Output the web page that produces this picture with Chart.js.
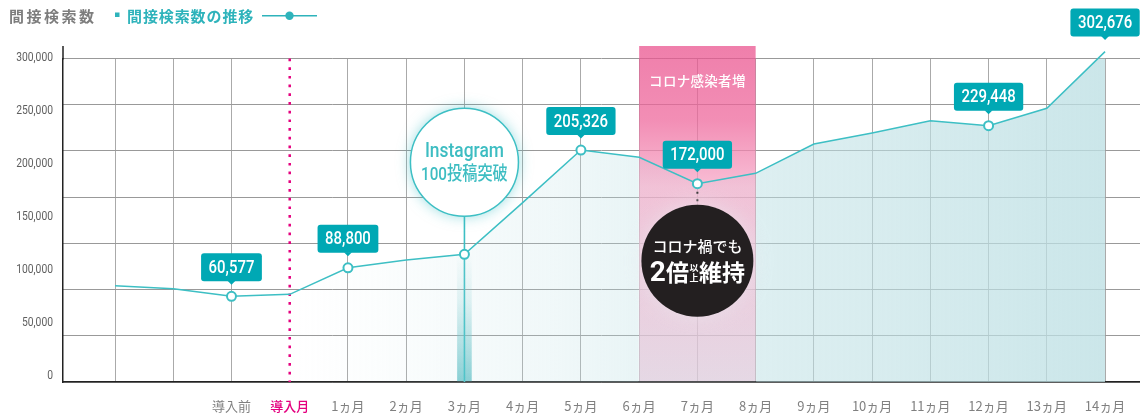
<!DOCTYPE html>
<html lang="ja">
<head>
<meta charset="utf-8">
<title>間接検索数の推移</title>
<script src="https://cdn.jsdelivr.net/npm/chart.js@4.4.1/dist/chart.umd.min.js"></script>
<style>
  html, body { margin: 0; padding: 0; background: #fff; }
  #wrap { position: relative; width: 1140px; height: 418px; }
</style>
</head>
<body>
<div id="wrap"><canvas id="c" width="1140" height="418"></canvas></div>
<script>
// Monthly indirect search counts (two unlabeled months precede "導入前")
const monthLabels = ['', '', '導入前', '導入月', '1ヵ月', '2ヵ月', '3ヵ月', '4ヵ月', '5ヵ月', '6ヵ月',
  '7ヵ月', '8ヵ月', '9ヵ月', '10ヵ月', '11ヵ月', '12ヵ月', '13ヵ月', '14ヵ月'];
const searchCounts = [71100, 68150, 60577, 62600, 88800, 96500, 102200, 153300, 205326, 198100,
  172000, 182300, 211300, 222200, 234300, 229448, 246600, 302676];
const markedPoints = [2, 4, 6, 8, 10, 15, 17];
const calloutPoints = [2, 4, 8, 10, 15, 17];
const yTickValues = [0, 50000, 100000, 150000, 200000, 250000, 300000];
const gridSteps = [0, 1, 2, 3, 4, 5, 6, 7];
const launchIndex = 3;
const instagramIndex = 6;
const coronaRange = [9, 11];
const coronaIndex = 10;

const TEAL = '#3dbfc4';
const TEAL_DARK = '#00a8b4';
const PINK = '#e4007f';
const CJK = '"Noto Sans CJK JP"';

function condensed(ctx, text, x, y, sx, align) {
  ctx.save();
  ctx.translate(x, y);
  ctx.scale(sx, 1);
  ctx.textAlign = align || 'center';
  ctx.fillText(text, 0, 0);
  ctx.restore();
}

function fillGradient(context) {
  const chart = context.chart;
  const area = chart.chartArea;
  if (!area) return 'rgba(0,0,0,0)';
  const xs = chart.scales.x;
  const x0 = xs.getPixelForValue(launchIndex);
  const x1 = xs.getPixelForValue(monthLabels.length - 1);
  const p0 = xs.getPixelForValue(coronaRange[0]);
  const p1 = xs.getPixelForValue(coronaRange[1]);
  const f = px => Math.min(1, Math.max(0, (px - x0) / (x1 - x0)));
  const g = chart.ctx.createLinearGradient(x0, 0, x1, 0);
  g.addColorStop(0, 'rgba(190,224,228,0)');
  g.addColorStop(f(x0 + 90), 'rgba(190,224,228,0.06)');
  g.addColorStop(f(p0 - 60), 'rgba(190,224,228,0.26)');
  g.addColorStop(f(p0 - 1), 'rgba(190,224,228,0.34)');
  g.addColorStop(f(p0), 'rgba(190,224,228,0.12)');
  g.addColorStop(f(p1), 'rgba(190,224,228,0.12)');
  g.addColorStop(f(p1 + 1), 'rgba(190,224,228,0.52)');
  g.addColorStop(f(p1 + 120), 'rgba(190,224,228,0.6)');
  g.addColorStop(1, 'rgba(190,224,228,0.8)');
  return g;
}

const decorations = {
  id: 'decorations',
  beforeDatasetsDraw(chart) {
    const ctx = chart.ctx;
    const area = chart.chartArea;
    const xs = chart.scales.x;
    const ys = chart.scales.y;

    // Corona band
    const bx0 = xs.getPixelForValue(coronaRange[0]);
    const bx1 = xs.getPixelForValue(coronaRange[1]);
    const bTop = 46;
    const bBot = area.bottom - 0.8;
    const pg = ctx.createLinearGradient(0, bTop, 0, bBot);
    pg.addColorStop(0, 'rgba(234,84,143,0.75)');
    pg.addColorStop(0.22, 'rgba(238,104,156,0.75)');
    pg.addColorStop(0.42, 'rgba(246,168,199,0.75)');
    pg.addColorStop(1, 'rgba(228,202,220,0.75)');
    ctx.save();
    ctx.fillStyle = pg;
    ctx.fillRect(bx0, bTop, bx1 - bx0, bBot - bTop);
    ctx.restore();

    // Launch month marker
    const lx = xs.getPixelForValue(launchIndex);
    ctx.save();
    ctx.strokeStyle = PINK;
    ctx.lineWidth = 2.5;
    ctx.setLineDash([2.7, 6]);
    ctx.beginPath();
    ctx.moveTo(lx, area.top);
    ctx.lineTo(lx, area.bottom);
    ctx.stroke();
    ctx.restore();

    // Instagram milestone stem and bar
    const ix = xs.getPixelForValue(instagramIndex);
    const iy = ys.getPixelForValue(searchCounts[instagramIndex]);
    const bg = ctx.createLinearGradient(0, iy, 0, area.bottom);
    bg.addColorStop(0, 'rgba(120,200,205,0)');
    bg.addColorStop(0.35, 'rgba(120,200,205,0.2)');
    bg.addColorStop(1, 'rgba(95,192,198,0.8)');
    ctx.save();
    ctx.fillStyle = bg;
    ctx.fillRect(ix - 7.3, iy, 14.6, area.bottom - iy - 0.8);
    ctx.strokeStyle = TEAL;
    ctx.lineWidth = 1.6;
    ctx.beginPath();
    ctx.moveTo(ix, iy - 40);
    ctx.lineTo(ix, area.bottom);
    ctx.stroke();
    ctx.restore();

    // y axis line continues slightly above the plot
    ctx.save();
    ctx.strokeStyle = '#222';
    ctx.lineWidth = 1.5;
    ctx.beginPath();
    ctx.moveTo(area.left, 46);
    ctx.lineTo(area.left, area.top + 1);
    ctx.stroke();
    ctx.restore();
  },
  afterDatasetsDraw(chart) {
    const ctx = chart.ctx;
    const xs = chart.scales.x;
    const yl = chart.scales.yl;
    const meta = chart.getDatasetMeta(0);

    // Corona band caption
    const bx0 = xs.getPixelForValue(coronaRange[0]);
    const bx1 = xs.getPixelForValue(coronaRange[1]);
    ctx.save();
    ctx.fillStyle = '#fff';
    ctx.font = '500 13.5px ' + CJK;
    ctx.textBaseline = 'middle';
    ctx.letterSpacing = '0.3px';
    ctx.textAlign = 'center';
    ctx.fillText('コロナ感染者増', (bx0 + bx1) / 2, 81);
    ctx.restore();

    // Instagram bubble
    const ip = meta.data[instagramIndex];
    const icx = ip.x, icy = ip.y - 92, ir = 54;
    ctx.save();
    ctx.shadowColor = 'rgba(60,190,196,0.55)';
    ctx.shadowBlur = 14;
    ctx.fillStyle = '#fff';
    ctx.beginPath();
    ctx.arc(icx, icy, ir, 0, Math.PI * 2);
    ctx.fill();
    ctx.shadowColor = 'transparent';
    ctx.strokeStyle = TEAL;
    ctx.lineWidth = 1.5;
    ctx.stroke();
    ctx.fillStyle = '#3dbdc2';
    ctx.textBaseline = 'middle';
    ctx.font = '500 20px Roboto, ' + CJK;
    condensed(ctx, 'Instagram', icx, icy - 10, 0.87);
    ctx.font = '500 19px Roboto, ' + CJK;
    condensed(ctx, '100投稿突破', icx, icy + 13, 0.8);
    ctx.restore();

    // Corona note circle
    const cp = meta.data[coronaIndex];
    const ccx = cp.x, ccy = cp.y + 77, cr = 56;
    ctx.save();
    ctx.strokeStyle = '#333';
    ctx.lineWidth = 2;
    ctx.setLineDash([2, 5.5]);
    ctx.beginPath();
    ctx.moveTo(ccx, cp.y + 8);
    ctx.lineTo(ccx, ccy - cr);
    ctx.stroke();
    ctx.setLineDash([]);
    ctx.shadowColor = 'rgba(235,235,240,0.6)';
    ctx.shadowBlur = 20;
    ctx.fillStyle = '#231f20';
    ctx.beginPath();
    ctx.arc(ccx, ccy, cr, 0, Math.PI * 2);
    ctx.fill();
    ctx.shadowColor = 'transparent';
    ctx.fillStyle = '#fff';
    ctx.textBaseline = 'middle';
    ctx.textAlign = 'center';
    ctx.font = '500 15px ' + CJK;
    ctx.fillText('コロナ禍でも', ccx, ccy - 14);
    // second line: 2倍以上維持 with stacked 以上
    const parts = [
      { t: '2', f: 'bold 28px Roboto' },
      { t: '倍', f: 'bold 23px ' + CJK },
      { t: '以上', f: 'bold 9px ' + CJK, stack: true },
      { t: '維持', f: 'bold 23px ' + CJK }
    ];
    let total = 0;
    parts.forEach(p => {
      ctx.font = p.f;
      p.w = p.stack ? ctx.measureText('以').width + 1 : ctx.measureText(p.t).width;
      total += p.w;
    });
    let x = ccx - total / 2;
    const ly = ccy + 12;
    ctx.textAlign = 'left';
    parts.forEach(p => {
      ctx.font = p.f;
      if (p.stack) {
        ctx.fillText('以', x + 0.5, ly - 5);
        ctx.fillText('上', x + 0.5, ly + 5);
      } else {
        ctx.fillText(p.t, x, p.t === '2' ? ly + 1 : ly);
      }
      x += p.w;
    });
    ctx.restore();

    // Value callouts
    ctx.save();
    calloutPoints.forEach(i => {
      const el = meta.data[i];
      const text = searchCounts[i].toLocaleString('en-US');
      ctx.font = '500 18px Roboto';
      const tw = ctx.measureText(text).width * 0.83;
      const bw = tw + 15, bh = 28;
      const bottom = el.y - 15, top = bottom - bh;
      ctx.fillStyle = TEAL_DARK;
      ctx.beginPath();
      ctx.roundRect(el.x - bw / 2, top, bw, bh, 3);
      ctx.fill();
      ctx.beginPath();
      ctx.moveTo(el.x - 4, bottom - 0.5);
      ctx.lineTo(el.x + 4, bottom - 0.5);
      ctx.lineTo(el.x, bottom + 3.5);
      ctx.closePath();
      ctx.fill();
      ctx.fillStyle = '#fff';
      ctx.textBaseline = 'middle';
      condensed(ctx, text, el.x, top + bh / 2 + 1, 0.83);
    });
    ctx.restore();

    // y tick labels
    ctx.save();
    ctx.fillStyle = '#5f5f5f';
    ctx.font = '12px Roboto';
    ctx.textBaseline = 'middle';
    yl.ticks.forEach(t => {
      condensed(ctx, t.value.toLocaleString('en-US'), 53, yl.getPixelForValue(t.value), 0.86, 'right');
    });
    ctx.restore();

    // Legend
    ctx.save();
    ctx.textBaseline = 'middle';
    ctx.textAlign = 'left';
    ctx.font = 'bold 15px ' + CJK;
    ctx.fillStyle = '#7d7d7d';
    ctx.letterSpacing = '2.5px';
    ctx.fillText('間接検索数', 9, 16);
    ctx.letterSpacing = '0.9px';
    ctx.fillStyle = '#2eb3bb';
    ctx.fillRect(115, 12.5, 4.5, 4.5);
    ctx.fillText('間接検索数の推移', 127, 16);
    ctx.strokeStyle = '#2eb3bb';
    ctx.lineWidth = 1.5;
    ctx.beginPath();
    ctx.moveTo(262, 15.7);
    ctx.lineTo(317, 15.7);
    ctx.stroke();
    ctx.beginPath();
    ctx.arc(289.5, 15.7, 4.2, 0, Math.PI * 2);
    ctx.fill();
    ctx.restore();
  }
};

new Chart(document.getElementById('c'), {
  type: 'line',
  data: {
    datasets: [{
      data: searchCounts.map((v, i) => ({ x: i, y: v })),
      xAxisID: 'x',
      yAxisID: 'y',
      borderColor: TEAL,
      borderWidth: 1.5,
      tension: 0,
      fill: 'start',
      backgroundColor: fillGradient,
      pointRadius: ctx => markedPoints.includes(ctx.dataIndex) ? 4.5 : 0,
      pointHoverRadius: 0,
      pointBackgroundColor: '#fff',
      pointBorderColor: TEAL,
      pointBorderWidth: 2,
      clip: false
    }]
  },
  options: {
    responsive: false,
    animation: false,
    devicePixelRatio: 1,
    events: [],
    layout: { autoPadding: false, padding: { top: 58.5, left: 0, right: 0, bottom: 0 } },
    plugins: { legend: { display: false }, tooltip: { enabled: false } },
    scales: {
      x: {
        type: 'linear',
        position: 'bottom',
        min: -0.893,
        max: 17.6,
        afterBuildTicks: s => { s.ticks = monthLabels.map((_, i) => ({ value: i })); },
        afterFit: s => { s.height = 36; s.paddingLeft = 0; s.paddingRight = 0; },
        ticks: {
          autoSkip: false,
          maxRotation: 0,
          padding: 16.5,
          callback: v => monthLabels[v] ?? '',
          color: c => (c.tick && c.tick.value === launchIndex) ? PINK : '#808080',
          font: c => ({ family: CJK, size: 13, weight: (c.tick && c.tick.value === launchIndex) ? '500' : 'normal' })
        },
        grid: {
          color: c => (c.tick && c.tick.value === launchIndex) ? 'rgba(0,0,0,0)' : '#aaaaaa',
          lineWidth: 1,
          drawTicks: false
        },
        border: { color: '#222', width: 1.5 }
      },
      yl: {
        type: 'linear',
        position: 'left',
        min: -5660,
        max: 299530,
        afterBuildTicks: s => { s.ticks = yTickValues.map(v => ({ value: v })); },
        afterFit: s => { s.width = 63; s.paddingTop = 0; s.paddingBottom = 0; },
        ticks: { display: false },
        grid: { display: false, drawTicks: false },
        border: { color: '#222', width: 1.5 }
      },
      y: {
        type: 'linear',
        display: false,
        min: -24135,
        max: 295850
      },
      yg: {
        type: 'linear',
        position: 'right',
        min: 0,
        max: 7,
        afterBuildTicks: s => { s.ticks = gridSteps.map(v => ({ value: v })); },
        afterFit: s => { s.width = 0; s.paddingTop = 0; s.paddingBottom = 0; },
        ticks: { display: false },
        grid: { color: '#999999', lineWidth: 1, drawTicks: false },
        border: { display: false }
      }
    }
  },
  plugins: [decorations]
});
</script>
</body>
</html>
